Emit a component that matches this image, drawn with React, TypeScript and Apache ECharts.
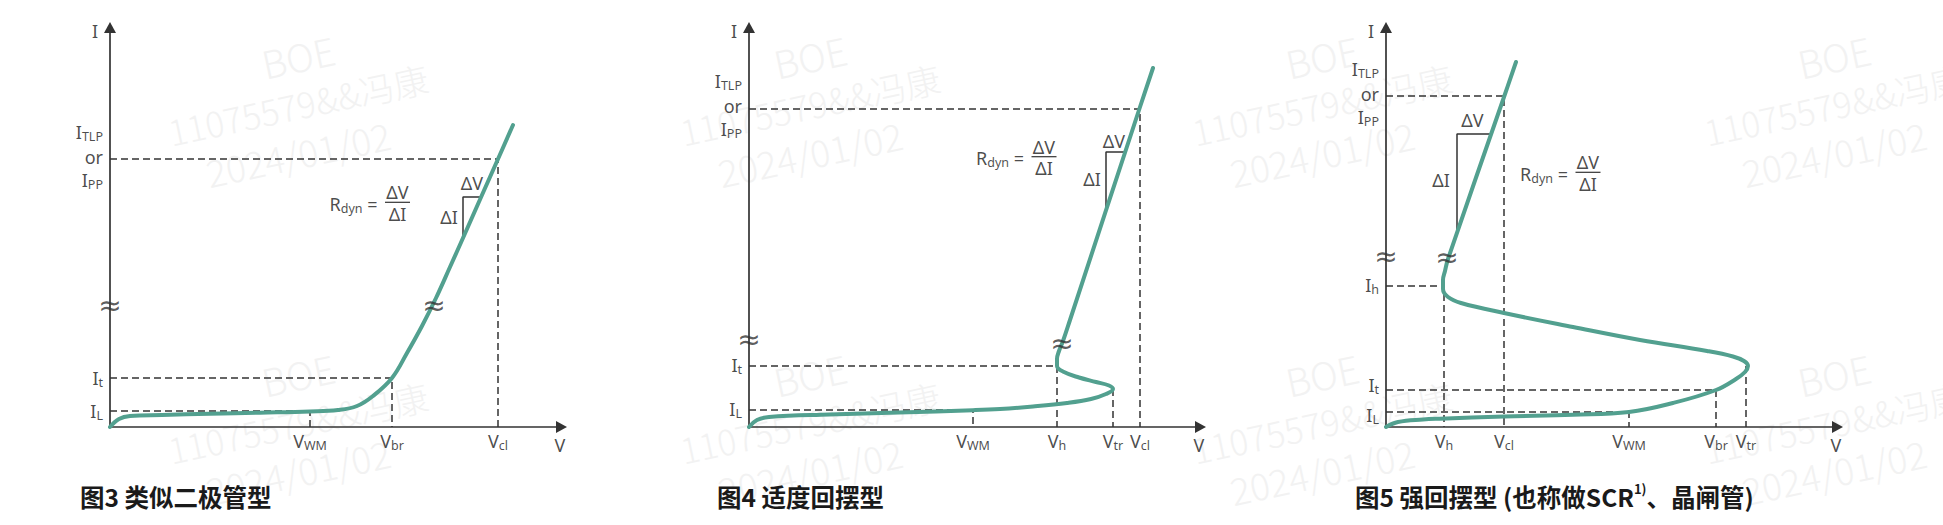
import React, { useEffect, useRef } from "react";
import * as echarts from "echarts";

// ---------------- data (units, origin at the axes' crossing) ----------------
// Figure 3 — diode-like
const fig3Curve = [[0, 0], [9, 8], [20, 11], [52, 12], [100, 13.2], [150, 14.3], [200, 15.5], [228, 17], [247, 21], [263, 31], [282, 49], [297, 74], [312, 101], [326, 129], [340, 160], [353, 189], [372, 232], [388, 268], [403, 302]];
const fig3Corners = [[388, 268], [282, 49], [200, 16]];
const fig3Drops: number[][][] = [];
const fig3VLabels: [string, number][] = [["V_WM", 200], ["V_br", 282], ["V_cl", 388]];
const fig3ILabels: [string, number][] = [["I_t", 49], ["I_L", 16]];
const fig3IMax = 268;
const fig3Slope = [[353, 189], [353, 230], [371, 230]];
const fig3SlopeLabels = [[362, 244], [339, 210]];
const fig3Breaks = [[0, 123], [324, 123]];
const fig3Rdyn = [287.5, 224.7];

// Figure 4 — moderate snapback
const fig4Curve = [[0, 0], [8, 7], [20, 10], [80, 12.5], [150, 14.5], [224, 16.8], [251, 18], [284, 20.5], [318, 24], [342, 28], [357, 33], [364, 38], [360, 41.5], [347, 45], [330, 49.5], [315, 55], [308, 61], [308, 68], [310, 76], [314, 86], [321, 107], [391, 320], [404, 359]];
const fig4Corners = [[391, 318], [308, 61], [224, 17]];
const fig4Drops = [[[364, 38], [364, 0]]];
const fig4VLabels: [string, number][] = [["V_WM", 224], ["V_h", 308], ["V_tr", 364], ["V_cl", 391]];
const fig4ILabels: [string, number][] = [["I_t", 62], ["I_L", 18]];
const fig4IMax = 319;
const fig4Slope = [[357, 218], [357, 275], [376, 275]];
const fig4SlopeLabels = [[365, 286], [343, 248]];
const fig4Breaks = [[0, 89], [313, 85]];
const fig4Rdyn = [295, 270.3];

// Figure 5 — strong snapback (SCR)
const fig5Curve = [[0, 0], [12, 5], [37, 7.5], [54, 8.3], [118, 10.5], [187, 12.3], [243, 15], [287, 24], [330, 37], [350, 48], [359, 55], [362, 61], [358, 66], [347, 70.5], [321, 76], [254, 87], [187, 100], [118, 114], [75, 124], [62, 130], [57, 138], [57, 147], [59, 156], [62, 168], [118, 330], [130, 365]];
const fig5Corners = [[118, 331], [58, 141], [330, 37], [243, 15]];
const fig5Drops = [[[360, 61], [360, 0]]];
const fig5VLabels: [string, number][] = [["V_h", 58], ["V_cl", 118], ["V_WM", 243], ["V_br", 330], ["V_tr", 360]];
const fig5ILabels: [string, number][] = [["I_h", 142], ["I_t", 42], ["I_L", 12]];
const fig5IMax = 331;
const fig5Slope = [[71, 194], [71, 293], [105, 293]];
const fig5SlopeLabels = [[86.5, 307], [55, 247]];
const fig5Breaks = [[0, 172], [61, 171]];
const fig5Rdyn = [202, 254.7];

const titles = ["图3 类似二极管型", "图4 适度回摆型", "图5 强回摆型 (也称做SCR"];
const title5Sup = "1)";
const title5Tail = "、晶闸管)";
const watermarkLines = ["BOE", "11075579&&冯康", "2024/01/02"];

// ---------------- layout / style ----------------
const ORIGIN_Y = 427;
const AX_X = 451.5;
const AX_Y = 399.5;
const TEAL = "#52a08f";
const INK = "#1c1c1c";
const LINE = "#333333";
const FONT = "'Noto Sans', 'DejaVu Sans', sans-serif";
const CJK = "'Noto Sans CJK SC', 'Noto Sans', sans-serif";

const FIGS = [
  { ox: 110, curve: fig3Curve, corners: fig3Corners, drops: fig3Drops, vLabels: fig3VLabels, iLabels: fig3ILabels, iMax: fig3IMax, slope: fig3Slope, slopeLabels: fig3SlopeLabels, breaks: fig3Breaks, rdyn: fig3Rdyn, titleX: 80 },
  { ox: 749, curve: fig4Curve, corners: fig4Corners, drops: fig4Drops, vLabels: fig4VLabels, iLabels: fig4ILabels, iMax: fig4IMax, slope: fig4Slope, slopeLabels: fig4SlopeLabels, breaks: fig4Breaks, rdyn: fig4Rdyn, titleX: 717 },
  { ox: 1386, curve: fig5Curve, corners: fig5Corners, drops: fig5Drops, vLabels: fig5VLabels, iLabels: fig5ILabels, iMax: fig5IMax, slope: fig5Slope, slopeLabels: fig5SlopeLabels, breaks: fig5Breaks, rdyn: fig5Rdyn, titleX: 1355 },
];

const RICH: any = {
  m: { fontSize: 18, fontFamily: FONT, color: INK, lineHeight: 22 },
  s: { fontSize: 12.5, fontFamily: FONT, color: INK, lineHeight: 10, verticalAlign: "bottom" },
  w: { fontSize: 28, fontFamily: FONT, color: "#333333", lineHeight: 28 },
};

function toRich(t: string): string {
  const k = t.indexOf("_");
  if (k < 0) return `{m|${t}}`;
  const main = t.slice(0, k);
  const rest = t.slice(k + 1);
  const sp = rest.indexOf(" ");
  const sub = sp < 0 ? rest : rest.slice(0, sp);
  const tail = sp < 0 ? "" : rest.slice(sp);
  return `{m|${main}}{s|${sub}}` + (tail ? `{m|${tail}}` : "");
}

function buildOption(): any {
  const grid: any[] = [];
  const xAxis: any[] = [];
  const yAxis: any[] = [];
  const series: any[] = [];
  const axisLine = (show: boolean) => ({
    show,
    onZero: false,
    symbol: ["none", "triangle"],
    symbolSize: [12, 11],
    lineStyle: { color: "#333333", width: 1.7 },
  });

  FIGS.forEach((f, i) => {
    grid.push({ left: f.ox, top: ORIGIN_Y - AX_Y, width: AX_X, height: AX_Y, outerBoundsMode: "none", containLabel: false });
    xAxis.push({ gridIndex: i, type: "value", min: 0, max: AX_X, axisLine: axisLine(true), axisTick: { show: false }, axisLabel: { show: false }, splitLine: { show: false } });
    yAxis.push({ gridIndex: i, type: "value", min: 0, max: AX_Y, axisLine: axisLine(true), axisTick: { show: false }, axisLabel: { show: false }, splitLine: { show: false } });

    const base = { xAxisIndex: i, yAxisIndex: i, silent: true, clip: false, symbol: "none", animation: false };
    const dashed = { color: LINE, width: 1.5, type: [7, 4] };

    f.corners.forEach((c) => {
      series.push({ ...base, type: "line", data: [[0, c[1]], [c[0], c[1]], [c[0], 0]], lineStyle: dashed, z: 2 });
    });
    f.drops.forEach((d) => {
      series.push({ ...base, type: "line", data: d, lineStyle: dashed, z: 2 });
    });
    series.push({ ...base, type: "line", data: f.slope, lineStyle: { color: LINE, width: 1.5 }, z: 2 });
    const [cx, cy] = f.rdyn;
    series.push({ ...base, type: "line", data: [[cx - 12.5, cy], [cx + 12.5, cy]], lineStyle: { color: LINE, width: 1.2 }, z: 2 });
    series.push({ ...base, type: "line", data: f.curve, smooth: 0.4, lineStyle: { color: TEAL, width: 4, cap: "round", join: "round" }, z: 3 });

    const items: any[] = [];
    const add = (x: number, y: number, name: string, align = "center") =>
      items.push({ value: [x, y], name, label: { align } });
    add(-15, 396, toRich("I"));
    add(-7, f.iMax + 27, toRich("I_TLP"), "right");
    add(-7, f.iMax + 2, toRich("or"), "right");
    add(-7, f.iMax - 21, toRich("I_PP"), "right");
    f.iLabels.forEach(([t, y]) => add(-7, y, toRich(t), "right"));
    f.vLabels.forEach(([t, x]) => add(x, -14, toRich(t)));
    add(450, -18, toRich("V"));
    f.breaks.forEach(([x, y]) => add(x, y, "{w|≈}"));
    add(cx - 20, cy - 1.3, toRich("R_dyn ="), "right");
    add(cx, cy + 10, toRich("ΔV"));
    add(cx, cy - 11.5, toRich("ΔI"));
    add(f.slopeLabels[0][0], f.slopeLabels[0][1], toRich("ΔV"));
    add(f.slopeLabels[1][0], f.slopeLabels[1][1], toRich("ΔI"));

    series.push({
      xAxisIndex: i,
      yAxisIndex: i,
      type: "scatter",
      silent: true,
      clip: false,
      symbol: "circle",
      symbolSize: 1,
      itemStyle: { color: "rgba(0,0,0,0)" },
      label: {
        show: true,
        position: "inside",
        verticalAlign: "middle",
        formatter: (p: any) => p.name,
        rich: RICH,
      },
      data: items,
      z: 5,
    });
  });

  const titleStyle = { fontSize: 24.5, fontWeight: "bold", fontFamily: CJK, color: "#1a1a1a", lineHeight: 28 };
  const title = [
    { text: titles[0], left: FIGS[0].titleX, top: 482, padding: 0, textStyle: titleStyle },
    { text: titles[1], left: FIGS[1].titleX, top: 482, padding: 0, textStyle: titleStyle },
    {
      text: `{t|${titles[2]}}{sup|${title5Sup}}{t|${title5Tail}}`,
      left: FIGS[2].titleX,
      top: 482,
      padding: 0,
      textStyle: {
        ...titleStyle,
        rich: {
          t: { ...titleStyle },
          sup: { fontSize: 13, fontWeight: "bold", fontFamily: CJK, color: "#1a1a1a", lineHeight: 16, verticalAlign: "top" },
        },
      },
    },
  ];

  const graphic: any[] = [];
  const tileX = [298, 810, 1322, 1834];
  const rowY = [[56, 104, 153], [374, 422, 471]];
  const wmSize = [38, 35, 37];
  tileX.forEach((x) => {
    rowY.forEach((ys) => {
      ys.forEach((y, k) => {
        graphic.push({
          type: "text",
          x,
          y,
          rotation: (12 * Math.PI) / 180,
          silent: true,
          z: -10,
          style: {
            text: watermarkLines[k],
            fill: "#f2f2f2",
            fontSize: wmSize[k],
            fontWeight: 300,
            fontFamily: CJK,
            align: "center",
            verticalAlign: "middle",
          },
        });
      });
    });
  });

  return {
    animation: false,
    backgroundColor: "#ffffff",
    title,
    grid,
    xAxis,
    yAxis,
    series,
    graphic,
  };
}

export default function App() {
  const ref = useRef<HTMLDivElement>(null);
  useEffect(() => {
    const chart = echarts.init(ref.current as HTMLDivElement, null, { renderer: "svg" });
    chart.setOption(buildOption());
    return () => chart.dispose();
  }, []);
  return (
    <div
      ref={ref}
      style={{ position: "absolute", left: 0, top: 0, width: 1943, height: 525, background: "#fff" }}
    />
  );
}
